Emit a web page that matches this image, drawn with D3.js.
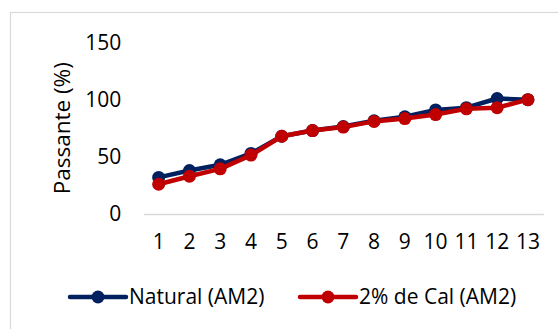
<!DOCTYPE html>
<html>
<head>
<meta charset="utf-8">
<script src="https://cdn.jsdelivr.net/npm/d3@7"></script>
<style>
  html, body { margin: 0; padding: 0; background: #fff; }
  svg { display: block; font-family: "Open Sans", "Liberation Sans", sans-serif; }
</style>
</head>
<body>
<svg id="chart" width="558" height="329"></svg>
<script>
// Sieve number and percent passing for the two AM2 samples
const categories = ["1", "2", "3", "4", "5", "6", "7", "8", "9", "10", "11", "12", "13"];
const natural = [32, 38, 43, 53, 68, 73, 76.5, 81.5, 85, 91, 93, 101, 100];
const cal2 = [26, 33, 39.5, 51.5, 68, 73, 76, 81, 83.5, 87, 92, 93, 100];
const yTicks = [0, 50, 100, 150];
const seriesNames = ["Natural (AM2)", "2% de Cal (AM2)"];
const seriesColors = ["#002060", "#C00000"];

const svg = d3.select("#chart");

// chart area frame (only the top and left edges fall inside the page)
svg.append("rect")
  .attr("x", 10.5).attr("y", 12.5)
  .attr("width", 600).attr("height", 400)
  .attr("fill", "none").attr("stroke", "#d9d9d9").attr("stroke-width", 1.2);

const plot = { left: 143.3, right: 543.3, top: 42.5, bottom: 214 };

const x = d3.scaleBand().domain(categories).range([plot.left, plot.right]);
const y = d3.scaleLinear().domain([0, 150]).range([plot.bottom, plot.top]);

// y axis: labels only
const yAxis = svg.append("g")
  .attr("transform", `translate(${plot.left - 22},0)`)
  .call(d3.axisLeft(y).tickValues(yTicks).tickSize(0).tickPadding(0));
yAxis.select(".domain").remove();
yAxis.selectAll("text")
  .attr("font-size", 21).attr("fill", "#000")
  .attr("font-family", "Open Sans, Liberation Sans, sans-serif");

// x axis: category labels below a light baseline
const xAxis = svg.append("g")
  .attr("transform", `translate(0,${plot.bottom})`)
  .call(d3.axisBottom(x).tickSize(0).tickPadding(20));
xAxis.select(".domain").attr("stroke", "#d9d9d9").attr("stroke-width", 1.5);
xAxis.selectAll("text")
  .attr("font-size", 21).attr("fill", "#000")
  .attr("font-family", "Open Sans, Liberation Sans, sans-serif");

// y axis title
svg.append("text")
  .attr("transform", `translate(70,${(plot.top + plot.bottom) / 2}) rotate(-90)`)
  .attr("text-anchor", "middle")
  .attr("font-size", 22.5)
  .attr("fill", "#000")
  .text("Passante (%)");

const cx = c => x(c) + x.bandwidth() / 2;
const line = d3.line().x((d, i) => cx(categories[i])).y(d => y(d));

[natural, cal2].forEach((vals, s) => {
  const g = svg.append("g");
  g.append("path")
    .datum(vals)
    .attr("d", line)
    .attr("fill", "none")
    .attr("stroke", seriesColors[s])
    .attr("stroke-width", 4.5)
    .attr("stroke-linejoin", "round");
  g.selectAll("circle")
    .data(vals)
    .join("circle")
    .attr("cx", (d, i) => cx(categories[i]))
    .attr("cy", d => y(d))
    .attr("r", 6.5)
    .attr("fill", seriesColors[s]);
});

// legend
const legendY = 297;
const legendX = [70, 300];
seriesNames.forEach((name, s) => {
  const g = svg.append("g").attr("transform", `translate(${legendX[s]},${legendY})`);
  g.append("line")
    .attr("x1", 0).attr("x2", 56)
    .attr("stroke", seriesColors[s]).attr("stroke-width", 4.5)
    .attr("stroke-linecap", "round");
  g.append("circle").attr("cx", 28).attr("r", 6.5).attr("fill", seriesColors[s]);
  g.append("text")
    .attr("x", 59).attr("dy", "0.35em")
    .attr("font-size", 21).attr("fill", "#000")
    .text(name);
});
</script>
</body>
</html>
